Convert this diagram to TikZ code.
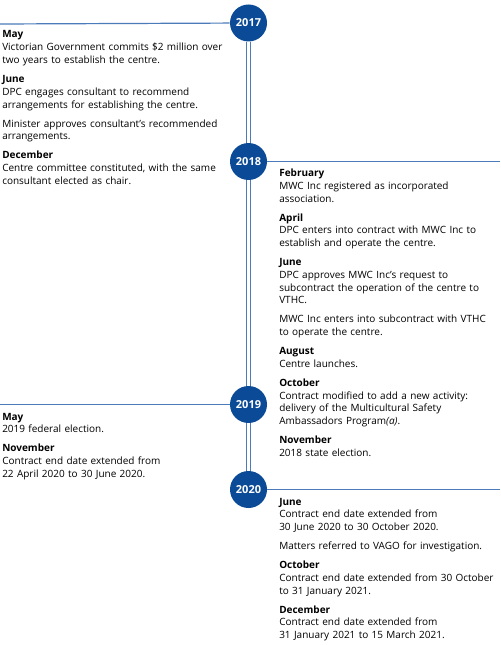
\documentclass[tikz,border=0pt]{standalone}
\usepackage{fontspec}
\setmainfont{Open Sans}
\definecolor{yearblue}{HTML}{0B4A96}
\definecolor{lineblue}{HTML}{4C7BBA}
\newlength{\pgap}
\setlength{\pgap}{4.6pt}
\begin{document}
\begin{tikzpicture}[x=0.75pt,y=-0.75pt,
  year/.style={circle, fill=yearblue, minimum size=27.75pt, inner sep=0pt,
    text=white, font=\fontsize{8.25pt}{9pt}\selectfont\bfseries},
  tline/.style={draw=lineblue, line width=0.9pt},
  vline/.style={draw=lineblue, line width=0.75pt, double=white, double distance=2.25pt},
  txt/.style={anchor=base west, inner sep=0pt, align=left, text width=220pt,
    font=\fontsize{7.5pt}{9.6pt}\selectfont, text=black}]
\useasboundingbox (0,0) rectangle (500,645);

\node[year] (c2017) at (248.5,23) {2017};
\node[year] (c2018) at (248.5,161.5) {2018};
\node[year] (c2019) at (248.5,404.5) {2019};
\node[year] (c2020) at (248.5,489.5) {2020};

\coordinate (l2017) at (0,24);
\coordinate (r2018) at (500,161.5);
\coordinate (l2019) at (0,404.5);
\coordinate (r2020) at (500,489.5);

\draw[tline] (l2017) -- (c2017);
\draw[tline] (c2018) -- (r2018);
\draw[tline] (l2019) -- (c2019);
\draw[tline] (c2020) -- (r2020);

\draw[vline] (c2017.south) -- (c2018.north);
\draw[vline] (c2018.south) -- (c2019.north);
\draw[vline] (c2019.south) -- (c2020.north);

\node[txt] (t2017) at (2,38) {\textbf{May}\\
Victorian Government commits \$2 million over\\
two years to establish the centre.\\[\pgap]
\textbf{June}\\
DPC engages consultant to recommend\\
arrangements for establishing the centre.\\[\pgap]
Minister approves consultant’s recommended\\
arrangements.\\[\pgap]
\textbf{December}\\
Centre committee constituted, with the same\\
consultant elected as chair.};

\node[txt] (t2018) at (279,176.5) {\textbf{February}\\
MWC Inc registered as incorporated\\
association.\\[\pgap]
\textbf{April}\\
DPC enters into contract with MWC Inc to\\
establish and operate the centre.\\[\pgap]
\textbf{June}\\
DPC approves MWC Inc’s request to\\
subcontract the operation of the centre to\\
VTHC.\\[\pgap]
MWC Inc enters into subcontract with VTHC\\
to operate the centre.\\[\pgap]
\textbf{August}\\
Centre launches.\\[\pgap]
\textbf{October}\\
Contract modified to add a new activity:\\
delivery of the Multicultural Safety\\
Ambassadors Program\textit{(a)}.\\[\pgap]
\textbf{November}\\
2018 state election.};

\node[txt] (t2019) at (2,420) {\textbf{May}\\
2019 federal election.\\[\pgap]
\textbf{November}\\
Contract end date extended from\\
22 April 2020 to 30 June 2020.};

\node[txt] (t2020) at (279,505) {\textbf{June}\\
Contract end date extended from\\
30 June 2020 to 30 October 2020.\\[\pgap]
Matters referred to VAGO for investigation.\\[\pgap]
\textbf{October}\\
Contract end date extended from 30 October\\
to 31 January 2021.\\[\pgap]
\textbf{December}\\
Contract end date extended from\\
31 January 2021 to 15 March 2021.};
\end{tikzpicture}
\end{document}
